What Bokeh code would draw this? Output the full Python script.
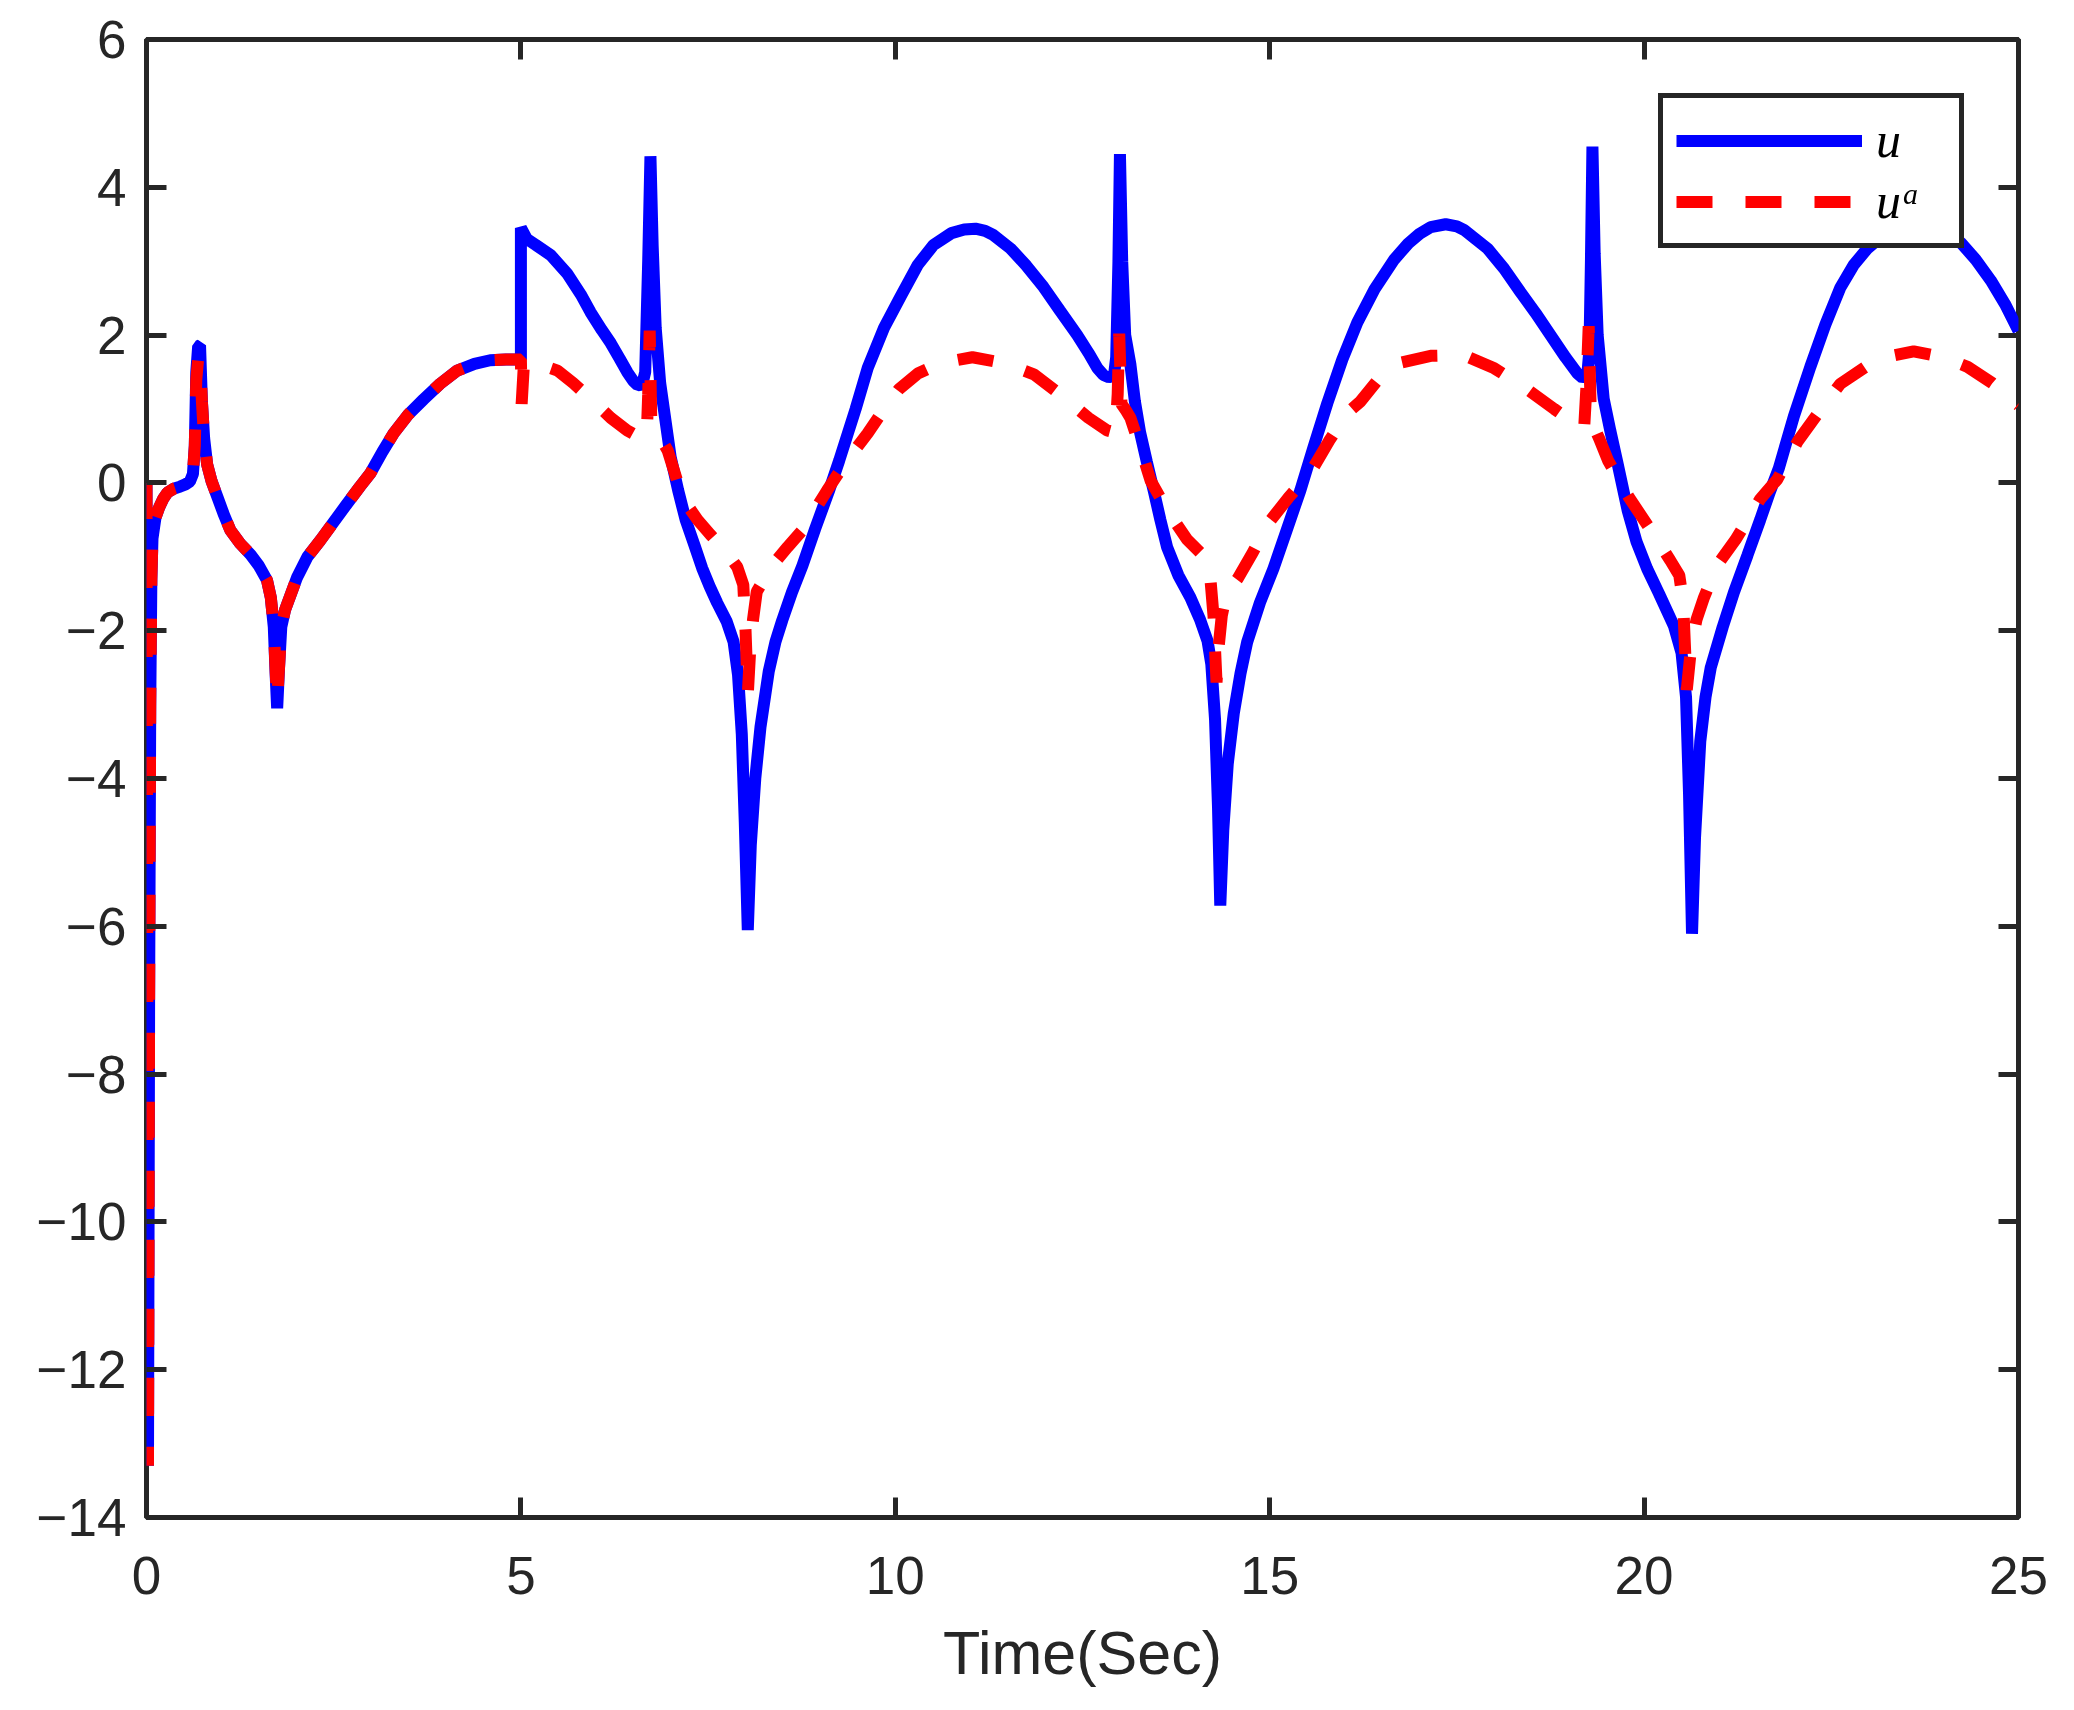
from bokeh.plotting import figure
from bokeh.models import (LinearAxis, FixedTicker, Range1d, Legend, LegendItem,
                          CustomJSTickFormatter)
from bokeh.embed import file_html
from bokeh.resources import INLINE

# ---------------- data ----------------
t_u = [0.0, 0.02, 0.035, 0.05, 0.065, 0.08, 0.12, 0.17, 0.22, 0.28, 0.36, 0.45, 0.52, 0.58, 0.62,
       0.645, 0.665, 0.69, 0.715, 0.74, 0.77, 0.81, 0.87, 0.95, 1.03, 1.12, 1.25, 1.39, 1.5, 1.61,
       1.66, 1.7, 1.725, 1.745, 1.77, 1.8, 1.85, 1.93, 2.01, 2.15, 2.32, 2.5, 2.68, 2.85, 2.99,
       3.15, 3.3, 3.5, 3.7, 3.92, 4.15, 4.38, 4.59, 4.8, 4.95, 5.0, 5.0,
       5.08, 5.2, 5.4, 5.62, 5.8, 5.93, 6.08, 6.2, 6.32, 6.42, 6.5, 6.56, 6.62, 6.66, 6.7, 6.73,
       6.76, 6.8, 6.86, 6.93, 7.0, 7.1, 7.2, 7.32, 7.42, 7.52, 7.62, 7.75, 7.84, 7.9, 7.95, 7.99,
       8.03, 8.07, 8.13, 8.2, 8.31, 8.4, 8.49, 8.62, 8.76, 8.93, 9.11, 9.25, 9.47, 9.63, 9.85,
       10.07, 10.3, 10.51, 10.75, 10.92, 11.07, 11.2, 11.3, 11.54, 11.75, 11.98, 12.2, 12.43, 12.58,
       12.7, 12.78, 12.85, 12.92, 12.95, 12.98, 13.0, 13.03, 13.07, 13.14, 13.2, 13.27, 13.36, 13.45,
       13.54, 13.63, 13.78, 13.94, 14.07, 14.17, 14.22, 14.27, 14.31, 14.34, 14.38, 14.44, 14.52,
       14.61, 14.7, 14.87, 15.05, 15.23, 15.41, 15.59, 15.77, 15.97, 16.17, 16.4, 16.66, 16.85,
       17.0, 17.15, 17.35, 17.5, 17.6, 17.91, 18.13, 18.35, 18.55, 18.75, 18.95, 19.11, 19.18,
       19.24, 19.27, 19.29, 19.31, 19.34, 19.38, 19.46, 19.55, 19.64, 19.78, 19.9, 20.04, 20.2,
       20.4, 20.5, 20.56, 20.6, 20.64, 20.68, 20.75, 20.82, 20.89, 21.05, 21.2, 21.38, 21.55,
       21.68, 21.8, 22.0, 22.22, 22.42, 22.62, 22.8, 22.98, 23.2, 23.45, 23.65, 23.9, 24.05,
       24.23, 24.43, 24.63, 24.82, 25.0]
u = [0.0, -13.3, -7.0, -3.0, -1.3, -0.75, -0.47, -0.33, -0.22, -0.13, -0.08, -0.05, -0.02, 0.02, 0.12,
     0.5, 1.5, 1.85, 1.86, 1.1, 0.6, 0.25, 0.02, -0.2, -0.42, -0.64, -0.82, -0.97, -1.12, -1.32,
     -1.55, -1.95, -2.6, -3.05, -2.5, -1.95, -1.72, -1.5, -1.28, -1.0, -0.78, -0.53, -0.28, -0.05, 0.13,
     0.42, 0.67, 0.93, 1.13, 1.34, 1.52, 1.61, 1.66, 1.67, 1.67, 1.67, 3.45,
     3.3, 3.22, 3.08, 2.83, 2.55, 2.31, 2.07, 1.89, 1.68, 1.5, 1.38, 1.32, 1.33, 1.5, 3.0, 4.42,
     3.2, 2.1, 1.35, 0.85, 0.35, -0.1, -0.5, -0.85, -1.15, -1.4, -1.62, -1.88, -2.15, -2.6, -3.4, -4.6,
     -6.05, -4.9, -4.0, -3.3, -2.55, -2.15, -1.86, -1.48, -1.12, -0.62, -0.12, 0.3, 1.0, 1.55, 2.1,
     2.52, 2.95, 3.22, 3.38, 3.43, 3.44, 3.41, 3.36, 3.17, 2.94, 2.65, 2.33, 2.0, 1.76,
     1.55, 1.46, 1.43, 1.45, 1.7, 3.0, 4.45, 3.0, 2.0, 1.6, 1.1, 0.68, 0.28, -0.1,
     -0.5, -0.87, -1.25, -1.55, -1.85, -2.14, -2.45, -3.2, -4.4, -5.72, -4.7, -3.8, -3.12,
     -2.58, -2.15, -1.62, -1.16, -0.63, -0.1, 0.5, 1.08, 1.67, 2.17, 2.62, 3.02, 3.24,
     3.37, 3.46, 3.5, 3.47, 3.42, 3.17, 2.9, 2.58, 2.3, 2.0, 1.7, 1.48, 1.42,
     1.45, 1.8, 3.0, 4.55, 3.1, 2.0, 1.14, 0.7, 0.29, -0.37, -0.8, -1.16, -1.5,
     -1.94, -2.3, -2.9, -4.2, -6.1, -4.8, -3.5, -2.9, -2.5, -1.95, -1.48, -0.98, -0.5,
     -0.12, 0.2, 0.9, 1.57, 2.14, 2.64, 2.95, 3.17, 3.36, 3.47, 3.5, 3.42, 3.37,
     3.25, 3.02, 2.74, 2.42, 2.06]

t_ua = [0.0, 0.02, 0.035, 0.05, 0.065, 0.08, 0.12, 0.17, 0.22, 0.28, 0.36, 0.45, 0.52, 0.58, 0.62,
        0.645, 0.665, 0.69, 0.715, 0.74, 0.77, 0.81, 0.87, 0.95, 1.03, 1.12, 1.25, 1.39, 1.5, 1.61,
        1.66, 1.7, 1.725, 1.745, 1.77, 1.8, 1.85, 1.93, 2.01, 2.15, 2.32, 2.5, 2.68, 2.85, 2.99,
        3.15, 3.3, 3.5, 3.7, 3.92, 4.15, 4.38, 4.59, 4.8, 4.95, 5.0,
        5.01, 5.04, 5.2, 5.49, 5.7, 5.93, 6.2, 6.42, 6.6, 6.68, 6.7, 6.72, 6.74, 6.78, 6.84, 6.96,
        7.16, 7.36, 7.53, 7.73, 7.89, 7.97, 8.0, 8.03, 8.06, 8.1, 8.15, 8.37, 8.56, 8.76, 9.09,
        9.35, 9.63, 9.85, 10.05, 10.3, 10.6, 11.03, 11.45, 11.85, 12.2, 12.58, 12.83, 12.94,
        12.97, 12.99, 13.02, 13.08, 13.14, 13.28, 13.41, 13.65, 13.9, 14.08, 14.2, 14.25, 14.29,
        14.32, 14.36, 14.42, 14.57, 14.77, 14.97, 15.25, 15.55, 15.8, 16.04, 16.21, 16.45, 16.72,
        17.15, 17.59, 18.0, 18.42, 18.8, 19.11, 19.2, 19.23, 19.26, 19.29, 19.4, 19.52, 19.8,
        20.13, 20.35, 20.47, 20.52, 20.57, 20.63, 20.7, 20.8, 20.9, 21.02, 21.22, 21.55, 21.78,
        22.05, 22.35, 22.62, 23.0, 23.3, 23.6, 24.0, 24.32, 24.65, 24.94, 25.0]
ua = [0.0, -13.3, -7.0, -3.0, -1.3, -0.75, -0.47, -0.33, -0.22, -0.13, -0.08, -0.05, -0.02, 0.02, 0.12,
      0.5, 1.4, 1.68, 1.68, 1.1, 0.6, 0.25, 0.02, -0.2, -0.42, -0.64, -0.82, -0.97, -1.12, -1.32,
      -1.55, -1.95, -2.55, -2.95, -2.5, -1.95, -1.72, -1.5, -1.28, -1.0, -0.78, -0.53, -0.28, -0.05, 0.13,
      0.42, 0.67, 0.93, 1.13, 1.34, 1.52, 1.61, 1.66, 1.67, 1.67, 1.67,
      1.07, 1.6, 1.62, 1.52, 1.35, 1.14, 0.88, 0.71, 0.61, 0.62, 1.2, 2.06, 0.9, 0.85, 0.65, 0.44,
      -0.21, -0.5, -0.7, -0.92, -1.14, -1.38, -2.0, -2.86, -2.3, -1.85, -1.47, -1.1, -0.87, -0.64, -0.1,
      0.3, 0.67, 1.0, 1.27, 1.48, 1.62, 1.7, 1.62, 1.47, 1.2, 0.88, 0.71, 0.68,
      1.2, 2.02, 1.07, 0.98, 0.88, 0.45, 0.03, -0.4, -0.77, -0.95, -1.2, -1.8, -2.7,
      -2.2, -1.8, -1.5, -1.3, -0.95, -0.56, -0.2, 0.15, 0.58, 0.95, 1.1, 1.4, 1.62,
      1.72, 1.73, 1.55, 1.28, 1.0, 0.78, 0.75, 1.3, 2.12, 0.85, 0.6, 0.3, -0.2,
      -0.7, -1.05, -1.25, -1.6, -2.8, -2.2, -1.85, -1.55, -1.3, -1.05, -0.77, -0.22, 0.05,
      0.56, 0.98, 1.34, 1.6, 1.72, 1.78, 1.7, 1.57, 1.35, 1.1, 1.05]

x_ticks = [0, 5, 10, 15, 20, 25]
y_ticks = [-14, -12, -10, -8, -6, -4, -2, 0, 2, 4, 6]
y_tick_labels = {v: (("\u2212" + str(-v)) if v < 0 else str(v)) for v in y_ticks}
x_label = "Time(Sec)"
legend_labels = ["u", "u\u1d43"]

# ---------------- figure ----------------
INK = "#262626"
p = figure(width=2066, height=1702, output_backend="svg", toolbar_location=None,
           x_range=Range1d(0, 25), y_range=Range1d(-14, 6),
           x_axis_location=None, y_axis_location=None,
           min_border_left=146, min_border_right=48, min_border_top=39, min_border_bottom=185)
p.background_fill_color = "white"
p.border_fill_color = "white"
p.outline_line_color = INK
p.outline_line_width = 5
p.outline_line_alpha = 1.0
p.grid.visible = False

FONT = "Liberation Sans"


def style_axis(ax):
    ax.axis_line_color = None
    ax.major_tick_line_color = INK
    ax.major_tick_line_width = 5
    ax.major_tick_in = 20
    ax.major_tick_out = 0
    ax.minor_tick_line_color = None
    ax.major_label_text_font = FONT
    ax.major_label_text_color = INK


bottom = LinearAxis(ticker=FixedTicker(ticks=x_ticks), axis_label=x_label)
style_axis(bottom)
bottom.major_label_text_font_size = "53px"
bottom.major_label_standoff = 39
bottom.axis_label_text_font = FONT
bottom.axis_label_text_font_size = "61px"
bottom.axis_label_text_font_style = "normal"
bottom.axis_label_text_color = INK
bottom.axis_label_standoff = 22
p.add_layout(bottom, "below")

left = LinearAxis(ticker=FixedTicker(ticks=y_ticks))
style_axis(left)
left.major_label_text_font_size = "53px"
left.major_label_standoff = 20
left.major_label_overrides = y_tick_labels
p.add_layout(left, "left")

for side, ticks in (("above", x_ticks), ("right", y_ticks)):
    ax = LinearAxis(ticker=FixedTicker(ticks=ticks),
                    formatter=CustomJSTickFormatter(code="return ''"))
    style_axis(ax)
    ax.major_label_text_font_size = "1px"
    ax.major_label_standoff = 0
    p.add_layout(ax, side)

r_u = p.line(t_u, u, line_color="#0000ff", line_width=12, line_join="bevel")
r_ua = p.line(t_ua, ua, line_color="#ff0000", line_width=12, line_dash="36 33", line_join="bevel")

legend = Legend(items=[LegendItem(label=legend_labels[0], renderers=[r_u]),
                       LegendItem(label=legend_labels[1], renderers=[r_ua])],
                location="top_right", margin=54, padding=13, spacing=3,
                glyph_width=186, glyph_height=45, label_height=45, label_width=70,
                label_standoff=14,
                label_text_font="Liberation Serif", label_text_font_style="italic",
                label_text_font_size="50px", label_text_color="black",
                border_line_color=INK, border_line_width=5, border_line_alpha=1.0,
                background_fill_color="white", background_fill_alpha=1.0)
p.add_layout(legend)

open("out.html", "w").write(file_html(p, INLINE))
